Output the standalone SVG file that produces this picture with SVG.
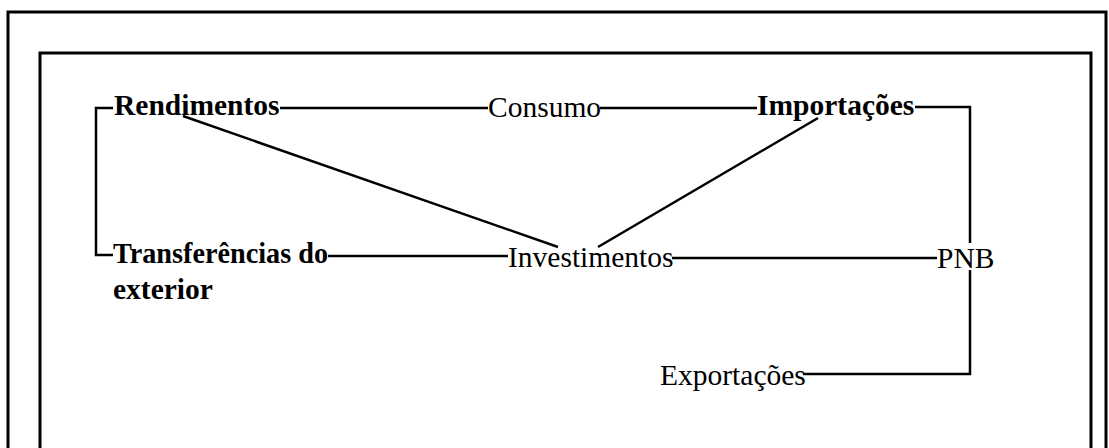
<svg xmlns="http://www.w3.org/2000/svg" width="1109" height="448" viewBox="0 0 1109 448">
<style>
.t{font-family:"Liberation Serif","Times New Roman",serif;font-size:29.5px;fill:#000}
.b{font-weight:bold}
.c{stroke:#000;stroke-width:2.5;fill:none}
.f{stroke:#000;stroke-width:3;fill:none}
</style>
<rect width="1109" height="448" fill="#fff"/>
<g id="frame">
<path class="f" d="M8,460 V12 H1106 V460"/>
<path class="f" d="M40,460 V53 H1091 V460"/>
</g>
<g id="connectors">
<path class="c" d="M113,108 H96 V255 H113"/>
<path class="c" d="M280,108 H488"/>
<path class="c" d="M600,108 H757"/>
<path class="c" d="M915,107 H970 V243"/>
<path class="c" d="M970,270 V374 H803"/>
<path class="c" d="M328,256 H508"/>
<path class="c" d="M672,258 H937"/>
<path class="c" d="M183,116 L558,247"/>
<path class="c" d="M818,118 L598,247"/>
</g>
<g id="n-rendimentos"><text class="t b" x="114" y="115">Rendimentos</text></g>
<g id="n-consumo"><text class="t" x="488" y="117">Consumo</text></g>
<g id="n-importacoes"><text class="t b" x="757" y="115">Importações</text></g>
<g id="n-transferencias"><text class="t b" x="113" y="263" textLength="215" lengthAdjust="spacingAndGlyphs">Transferências do</text><text class="t b" x="113" y="299">exterior</text></g>
<g id="n-investimentos"><text class="t" x="508" y="267">Investimentos</text></g>
<g id="n-pnb"><text class="t" x="937" y="268">PNB</text></g>
<g id="n-exportacoes"><text class="t" x="660" y="385">Exportações</text></g>
</svg>
